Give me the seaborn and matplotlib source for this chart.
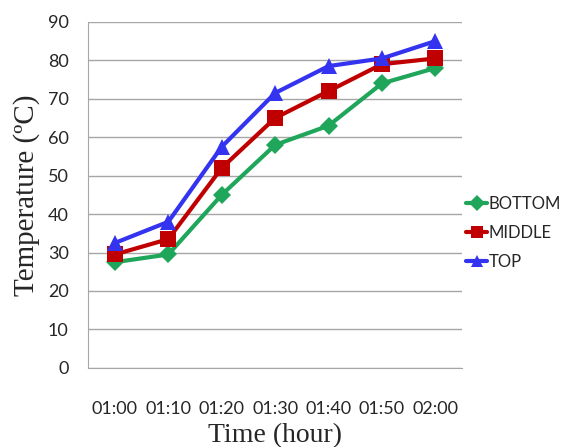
import numpy as np
import pandas as pd
import seaborn as sns
import matplotlib.pyplot as plt
from matplotlib.lines import Line2D

times = ['01:00', '01:10', '01:20', '01:30', '01:40', '01:50', '02:00']
bottom = [27.5, 29.5, 45, 58, 63, 74, 78]
middle = [29.5, 33.5, 52, 65, 72, 79, 80.5]
top = [32.5, 38, 57.5, 71.5, 78.5, 80.5, 85]
series = ['BOTTOM', 'MIDDLE', 'TOP']
colors = {'BOTTOM': '#1FA65A', 'MIDDLE': '#C00000', 'TOP': '#3333F0'}
markers = {'BOTTOM': 'D', 'MIDDLE': 's', 'TOP': '^'}

df = pd.DataFrame({
    'time': times * 3,
    'temp': bottom + middle + top,
    'pos': series[0:1] * 7 + series[1:2] * 7 + series[2:3] * 7,
})

sns.set_style('white')
fig = plt.figure(figsize=(5.69, 4.47), dpi=100)
ax = fig.add_axes([0.155, 0.177, 0.657, 0.774])

for name in series:
    sub = df[df['pos'] == name]
    sns.lineplot(data=sub, x='time', y='temp', ax=ax, color=colors[name],
                 lw=3, marker=markers[name], markersize=11 if name != 'BOTTOM' else 9.5,
                 markeredgewidth=0, sort=False, legend=False, zorder=3)

ax.set_xlim(-0.5, 6.5)
ax.set_ylim(0, 90)
ax.set_yticks(np.arange(0, 91, 10))
ax.yaxis.grid(True, color='#A6A6A6', lw=1)
ax.xaxis.grid(False)
for s in ['top', 'right']:
    ax.spines[s].set_visible(False)
ax.spines['left'].set_color('#A6A6A6')
ax.spines['bottom'].set_color('#A6A6A6')
ax.tick_params(axis='both', length=0, labelsize=13)
ax.tick_params(axis='x', pad=24)
ax.tick_params(axis='y', pad=14)
for lab in ax.get_xticklabels() + ax.get_yticklabels():
    lab.set_family('Lato')

ax.set_xlabel('Time (hour)', family='Liberation Serif', fontsize=20, labelpad=4)
ax.set_ylabel('Temperature (ºC)', family='Liberation Serif', fontsize=21, labelpad=6)

handles = [Line2D([], [], color=colors[n], lw=3, marker=markers[n], markersize=8,
                  markeredgewidth=0) for n in series]
leg = ax.legend(handles, series, loc='center left', bbox_to_anchor=(1.01, 0.39),
                borderaxespad=0, borderpad=0, frameon=False, handlelength=1.3,
                handletextpad=0.08, labelspacing=0.8,
                prop={'family': 'Lato', 'size': 12})

fig.savefig('out.png', dpi=100)
